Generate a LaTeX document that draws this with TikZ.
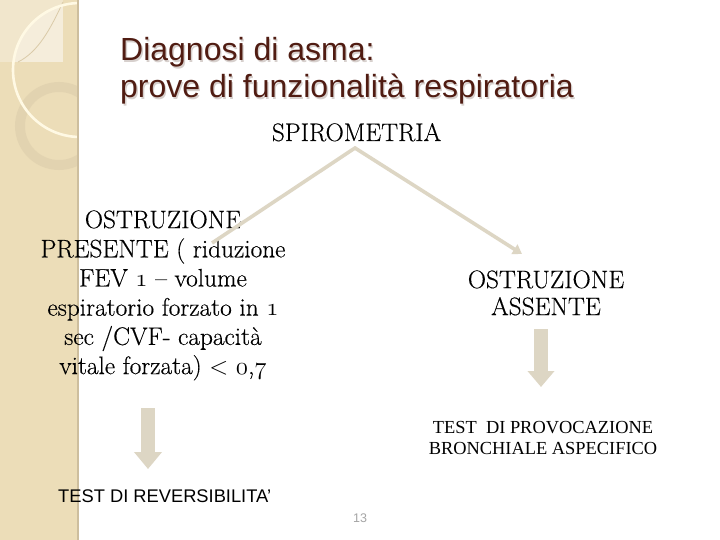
\documentclass[tikz,border=0pt]{standalone}
\usepackage{fontspec}
\usetikzlibrary{arrows.meta}
\newfontfamily\arialf{Liberation Sans}
\newfontfamily\timesf{Liberation Serif}
\newfontfamily\bodyfont{Latin Modern Roman}[Ligatures=TeX, FakeBold=0.35]
\newcommand\osf[1]{{\fontencoding{OML}\fontfamily{cmm}\fontseries{m}\fontshape{it}\selectfont #1}}
\definecolor{stripc}{RGB}{236,221,184}
\definecolor{lightc}{RGB}{241,230,204}
\definecolor{edgec}{RGB}{205,190,158}
\definecolor{ringc}{RGB}{226,211,176}
\definecolor{arcc}{RGB}{255,249,228}
\definecolor{taupe}{RGB}{221,214,196}
\definecolor{titlec}{RGB}{80,28,18}
\definecolor{shadowc}{RGB}{215,208,205}
\definecolor{pagec}{RGB}{165,165,165}
\tikzset{
  titlef/.style={font=\arialf\fontsize{32}{34}\selectfont, inner sep=0pt},
  bodyl/.style={font=\bodyfont\fontsize{25.3}{29.2}\selectfont, inner sep=0pt, align=center},
  bodyr/.style={font=\bodyfont\fontsize{25.3}{27}\selectfont, inner sep=0pt, align=center},
  provf/.style={font=\timesf\fontsize{18.4}{21}\selectfont, inner sep=0pt, align=center},
  revf/.style={font=\arialf\fontsize{18.3}{20}\selectfont, inner sep=0pt},
  pagef/.style={font=\arialf\fontsize{12.5}{14}\selectfont, inner sep=0pt, text=pagec},
  conn/.style={draw=taupe, line width=3.6pt, line join=miter},
  blockarrow/.style={draw=taupe, line width=13.5pt, -{Triangle[length=17pt,width=27pt]}}
}
\begin{document}
\begin{tikzpicture}[x=1pt,y=-1pt]
\useasboundingbox (0,0) rectangle (720,540);
\fill[white] (0,0) rectangle (720,540);
% decorative strip
\fill[stripc] (0,0) rectangle (77,540);
\begin{scope}
  \clip (0,0) rectangle (77,540);
  \fill[lightc] (0,0) rectangle (63,62);
  \begin{scope}
    \clip (80,70) circle (67);
    \fill[lightc!70!white] (0,0) rectangle (63,62);
  \end{scope}
  \draw[edgec!60!stripc, line width=0.8pt] (63,2) .. controls (50,30) and (38,52) .. (18,62);
  \draw[ringc, line width=10pt, opacity=0.9] (59,126) circle (39);
  \draw[arcc, line width=2.6pt] (80,70) circle (67);
\end{scope}
\draw[edgec, line width=2pt] (77.5,0) -- (77.5,540);
% title with shadow
\node[titlef, anchor=base west, text=shadowc] (t1s) at (121.3,62.3) {Diagnosi di asma:};
\node[titlef, anchor=base west, text=shadowc] (t2s) at (121.3,99.3) {prove di funzionalità respiratoria};
\node[titlef, anchor=base west, text=titlec] (t1) at (120,61) {Diagnosi di asma:};
\node[titlef, anchor=base west, text=titlec] (t2) at (120,98) {prove di funzionalità respiratoria};
% body
\node[bodyl, anchor=base] (spiro) at (356.5,141) {SPIROMETRIA};
\node[bodyl, anchor=north] (pres) at (163,210.2) {OSTRUZIONE\\PRESENTE ( riduzione\\FEV \osf{1} – volume\\espiratorio forzato in \osf{1}\\sec /CVF- capacità\\vitale forzata) $<$ \osf{0},\osf{7}};
\node[bodyr, anchor=north] (ass) at (546,270.2) {OSTRUZIONE\\ASSENTE};
\node[provf, anchor=north] (prov) at (543,421.5) {TEST\ \ DI PROVOCAZIONE\\BRONCHIALE ASPECIFICO};
\node[revf, anchor=base west] (rev) at (58,502.5) {TEST DI REVERSIBILITA’};
\node[pagef, anchor=base] (pg) at (360,522.5) {13};
% connectors
\coordinate (apex) at (355,148);
\coordinate (lend) at (212,243);
\coordinate (rend) at (522,254);
\draw[conn, -{Triangle[length=9pt,width=11pt]}] (lend) -- (apex) -- (rend);
\coordinate (la1) at (148,408);
\coordinate (la2) at (148,469);
\draw[blockarrow] (la1) -- (la2);
\coordinate (ra1) at (541,329);
\coordinate (ra2) at (541,387);
\draw[blockarrow, line width=14pt, -{Triangle[length=16pt,width=26pt]}] (ra1) -- (ra2);
\end{tikzpicture}
\end{document}
